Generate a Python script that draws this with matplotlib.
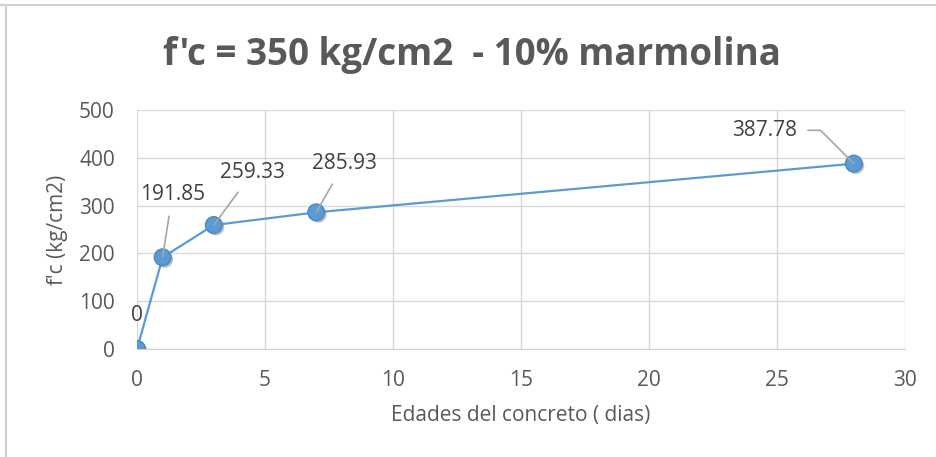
import matplotlib.pyplot as plt
import matplotlib.patheffects as pe
from matplotlib.lines import Line2D

dias = [0, 1, 3, 7, 28]
fc = [0, 191.85, 259.33, 285.93, 387.78]
etiquetas = ['0', '191.85', '259.33', '285.93', '387.78']
# label offsets in points (dx, dy) from each point
offsets = [(0, 24), (7, 45), (28, 38), (20, 35), (-41, 24)]

plt.rcParams['font.family'] = ['Open Sans', 'DejaVu Sans']
gris = '#595959'
azul = '#5B9BD5'

fig = plt.figure(figsize=(9.36, 4.57), dpi=100)
ax = fig.add_axes([0.1464, 0.2363, 0.8205, 0.523])

ax.plot(dias, fc, color=azul, lw=1.6, zorder=3)
ax.plot(dias, fc, 'o', ms=12, color=azul, mec='#4A88C2', mew=1, zorder=4,
        path_effects=[pe.SimplePatchShadow(offset=(1.5, -1.5), shadow_rgbFace='#808080', alpha=0.5),
                      pe.Normal()])

for x, y, t, (dx, dy) in zip(dias, fc, etiquetas, offsets):
    if t == '0':
        ax.annotate(t, (x, y), xytext=(dx, dy), textcoords='offset points',
                    ha='center', va='center', fontsize=15, color='#404040', zorder=5)
    elif t == '387.78':
        ax.annotate(t, (x, y), xytext=(dx, dy), textcoords='offset points',
                    ha='right', va='center', fontsize=15, color='#404040', zorder=5,
                    arrowprops=dict(arrowstyle='-', color='#A6A6A6', lw=1.2,
                                    shrinkA=6, shrinkB=0,
                                    connectionstyle='angle,angleA=0,angleB=135,rad=0'))
    else:
        ax.annotate(t, (x, y), xytext=(dx, dy), textcoords='offset points',
                    ha='center', va='center', fontsize=15, color='#404040', zorder=5,
                    arrowprops=dict(arrowstyle='-', color='#A6A6A6', lw=1.2,
                                    shrinkA=6, shrinkB=0))

ax.set_xlim(0, 30)
ax.set_ylim(0, 500)
ax.set_xticks(range(0, 31, 5))
ax.set_yticks(range(0, 501, 100))
ax.grid(True, color='#D9D9D9', lw=1)
ax.set_axisbelow(True)
for s in ['top', 'right', 'left']:
    ax.spines[s].set_visible(False)
ax.spines['bottom'].set_color('#D0D0D0')
ax.tick_params(length=0, labelsize=15, labelcolor=gris, pad=15)
ax.tick_params(axis='y', pad=16)
ax.set_xlabel('Edades del concreto ( dias)', fontsize=15, color=gris, labelpad=10)
ax.set_ylabel("f'c (kg/cm2)", fontsize=15, color=gris, labelpad=8)

fig.text(0.504, 0.879, "f'c = 350 kg/cm2  - 10% marmolina", ha='center', va='center',
         fontsize=26.5, fontweight='bold', color=gris)

# page borders
fig.add_artist(Line2D([0, 1], [0.99, 0.99], color='#D0D0D0', lw=1.5, transform=fig.transFigure))
fig.add_artist(Line2D([0.006, 0.006], [0, 0.99], color='#D0D0D0', lw=1.5, transform=fig.transFigure))

fig.savefig('out.png', dpi=100)
